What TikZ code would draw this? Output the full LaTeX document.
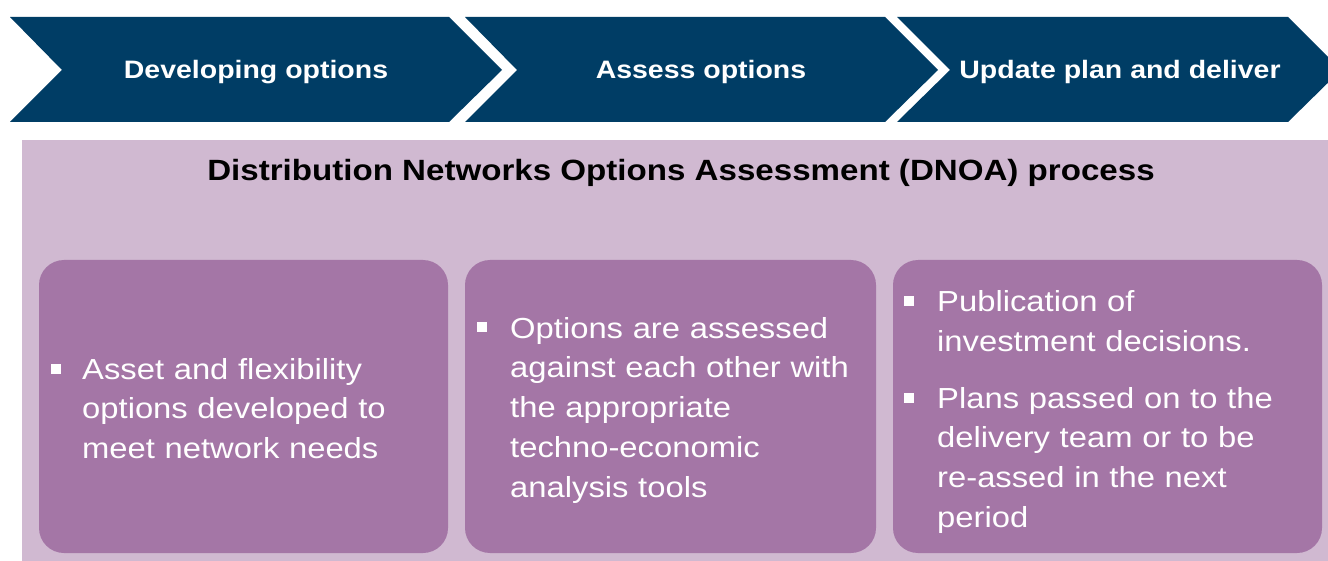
\documentclass[tikz,border=0pt]{standalone}
\usepackage{fontspec}
\setmainfont{Liberation Sans}
\newfontfamily\wide[FakeStretch=1.13]{Liberation Sans}
\definecolor{navy}{RGB}{0,61,101}
\definecolor{lilac}{RGB}{208,185,209}
\definecolor{mauve}{RGB}{164,118,166}
\tikzset{
  chev/.style={fill=navy, draw=none},
  chevtext/.style={text=white, font=\wide\bfseries\fontsize{25.2}{30}\selectfont, anchor=base, inner sep=0},
  titletext/.style={text=black, font=\wide\bfseries\fontsize{29.3}{34}\selectfont, anchor=base, inner sep=0},
  panel/.style={fill=mauve, draw=none, rounded corners=25pt},
  body/.style={text=white, font=\wide\fontsize{29}{39.8}\selectfont, anchor=base west, inner sep=0, text width=385pt, align=left},
  bul/.style={fill=white, minimum size=10pt, inner sep=0, anchor=center}
}
\begin{document}
\begin{tikzpicture}[x=1pt,y=-1pt]
\useasboundingbox (0,0) rectangle (1328,561);
\fill[white] (0,0) rectangle (1328,561);
\clip (0,0) rectangle (1328,561);
% chevrons
\fill[chev] (10,17) -- (449,17) -- (502,70) -- (449,122) -- (10,122) -- (62,70) -- cycle;
\fill[chev] (465,17) -- (885,17) -- (938,70) -- (885,122) -- (465,122) -- (517,70) -- cycle;
\fill[chev] (897,17) -- (1288,17) -- (1341,70) -- (1288,122) -- (897,122) -- (950,70) -- cycle;
\node[chevtext] (c1) at (256,79) {Developing options};
\node[chevtext] (c2) at (701,79) {Assess options};
\node[chevtext] (c3) at (1120,79) {Update plan and deliver};
% background
\fill[lilac] (22,140) rectangle (1330,563);
\node[titletext] (title) at (681,181) {Distribution Networks Options Assessment (DNOA) process};
% panels
\fill[panel] (39,260) rectangle (448,553);
\fill[panel] (465,260) rectangle (876,553);
\fill[panel] (893,260) rectangle (1322,553);
% box 1
\node[bul] (b1) at (56,368.5) {};
\node[body] (t1) at (82,379) {Asset and flexibility\\options developed to\\meet network needs};
% box 2
\node[bul] (b2) at (482,327.5) {};
\node[body] (t2) at (510,338) {Options are assessed\\against each other with\\the appropriate\\techno-economic\\analysis tools};
% box 3
\node[bul] (b3) at (909,301.5) {};
\node[body] (t3) at (937,312) {Publication of\\investment decisions.};
\node[bul] (b4) at (909,397.5) {};
\node[body] (t4) at (937,408) {Plans passed on to the\\delivery team or to be\\re-assed in the next\\period};
\end{tikzpicture}
\end{document}
